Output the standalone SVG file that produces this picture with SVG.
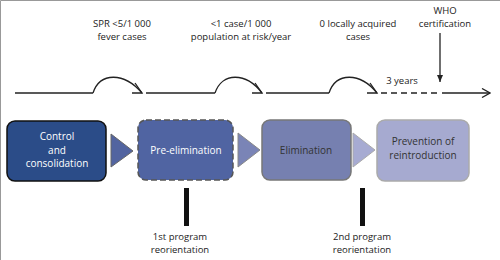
<svg xmlns="http://www.w3.org/2000/svg" width="500" height="260" viewBox="0 0 500 260">
<style>
text{font-family:"Open Sans","Liberation Sans",sans-serif;font-size:9.5px;text-anchor:middle;fill:#222}
.w{fill:#fff;font-size:10px}
.d{fill:#333;font-size:10px}
.tl{fill:none;stroke:#222;stroke-width:1.3}
</style>
<defs>
<marker id="open" markerWidth="10" markerHeight="10" refX="9" refY="5" orient="auto" markerUnits="userSpaceOnUse">
<path d="M1,0.5 L9,5 L1,9.5" fill="none" stroke="#222" stroke-width="1.3"/>
</marker>
<marker id="fill" markerWidth="8" markerHeight="8" refX="4" refY="7" orient="0" markerUnits="userSpaceOnUse">
<path d="M1,0 L7,0 L4,7 Z" fill="#222"/>
</marker>
</defs>
<rect width="500" height="260" fill="#fff"/>
<path d="M0.5,260 V0.5 H500" fill="none" stroke="#999" stroke-width="1"/>
<g id="connectors">
<line class="tl" x1="15" y1="93" x2="93" y2="93"/>
<path class="tl" d="M93,93 C100,72 124,72 142,93"/>
<path class="tl" d="M135,83 L142,93 L132,93"/>
<line class="tl" x1="146" y1="93" x2="215" y2="93"/>
<path class="tl" d="M215,93 C222,72 246,72 262,93"/>
<path class="tl" d="M255,83 L262,93 L252,93"/>
<line class="tl" x1="266" y1="93" x2="329" y2="93"/>
<path class="tl" d="M329,93 C336,72 360,72 377,93"/>
<path class="tl" d="M370,83 L377,93 L367,93"/>
<line class="tl" x1="381" y1="93" x2="440" y2="93" stroke-dasharray="6,4"/>
<line class="tl" x1="442" y1="93" x2="490" y2="93" marker-end="url(#open)"/>
<line class="tl" x1="440" y1="33" x2="440" y2="82" marker-end="url(#fill)"/>
<polygon points="111,134 133,151 111,167" fill="#5264a0" stroke="#666" stroke-width="1"/>
<polygon points="238,133 260,150 238,167" fill="#7a84b6" stroke="#888" stroke-width="1"/>
<polygon points="353,133 375,150 353,167" fill="#a7abd2" stroke="#aaa" stroke-width="1"/>
<rect x="184" y="188" width="5" height="38" fill="#111"/>
<rect x="360" y="188" width="5" height="38" fill="#111"/>
</g>
<g id="label-spr">
<text x="122" y="27">SPR &lt;5/1 000</text>
<text x="122" y="40">fever cases</text>
</g>
<g id="label-case">
<text x="241" y="27">&lt;1 case/1 000</text>
<text x="241" y="40">population at risk/year</text>
</g>
<g id="label-zero">
<text x="358" y="27">0 locally acquired</text>
<text x="358" y="40">cases</text>
</g>
<g id="label-who">
<text x="445" y="14">WHO</text>
<text x="445" y="27">certification</text>
</g>
<g id="label-3y">
<text x="402" y="84">3 years</text>
</g>
<g id="node-control">
<rect x="7" y="121" width="99" height="60" rx="8" fill="#2b4c88" stroke="#111" stroke-width="1.5"/>
<text class="w" x="57" y="140">Control</text>
<text class="w" x="57" y="153.5">and</text>
<text class="w" x="57" y="167">consolidation</text>
</g>
<g id="node-pre">
<rect x="138" y="120" width="95" height="60" rx="8" fill="#5064a2" stroke="#555" stroke-width="1.5" stroke-dasharray="6,3"/>
<text class="w" x="186" y="154">Pre-elimination</text>
</g>
<g id="node-elim">
<rect x="262" y="120" width="89" height="60" rx="8" fill="#7680b0" stroke="#777" stroke-width="1.5"/>
<text class="d" x="306" y="154">Elimination</text>
</g>
<g id="node-prev">
<rect x="377" y="120" width="92" height="61" rx="8" fill="#a6aad0" stroke="#aaa" stroke-width="1.5"/>
<text class="d" x="423" y="145">Prevention of</text>
<text class="d" x="423" y="158.5">reintroduction</text>
</g>
<g id="label-r1">
<text x="180" y="240">1st program</text>
<text x="180" y="253">reorientation</text>
</g>
<g id="label-r2">
<text x="362" y="240">2nd program</text>
<text x="362" y="253">reorientation</text>
</g>
</svg>
